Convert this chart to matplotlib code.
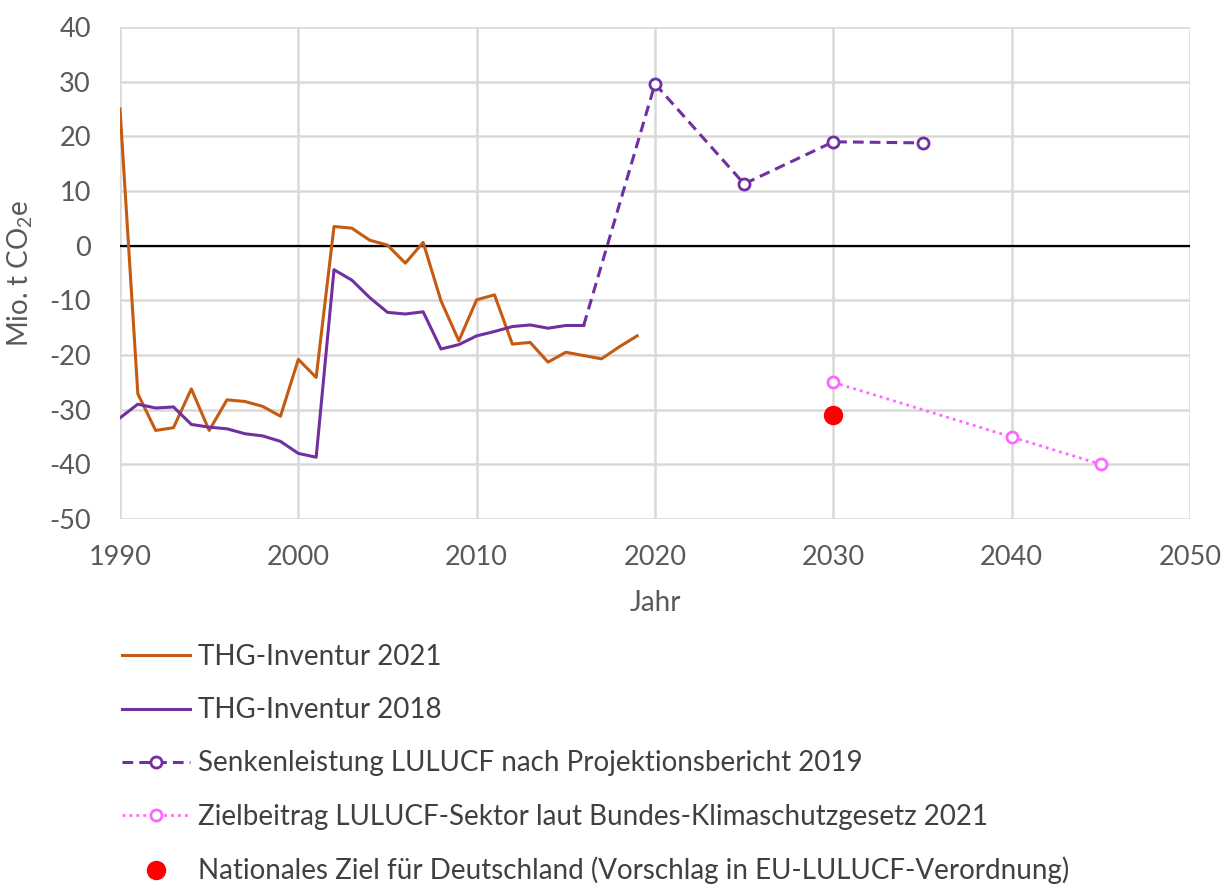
import matplotlib
matplotlib.use("Agg")
import matplotlib.pyplot as plt
import numpy as np

# THG-Inventur 2021 (1990-2019)
years_2021 = np.arange(1990, 2020)
inv_2021 = [25.0, -27.1, -33.8, -33.3, -26.2, -33.8, -28.2, -28.5, -29.4, -31.2,
            -20.8, -24.1, 3.5, 3.2, 1.0, 0.1, -3.2, 0.6, -10.1, -17.4,
            -9.9, -9.0, -18.0, -17.7, -21.3, -19.5, -20.1, -20.7, -18.5, -16.5]

# THG-Inventur 2018 (1990-2016)
years_2018 = np.arange(1990, 2017)
inv_2018 = [-31.5, -29.0, -29.7, -29.5, -32.7, -33.2, -33.5, -34.4, -34.8, -35.8,
            -38.0, -38.7, -4.4, -6.3, -9.5, -12.2, -12.5, -12.1, -18.9, -18.1,
            -16.5, -15.7, -14.8, -14.5, -15.1, -14.6, -14.6]

# Projektionsbericht 2019
years_proj = [2016, 2020, 2025, 2030, 2035]
proj = [-14.6, 29.6, 11.3, 19.0, 18.8]

# Klimaschutzgesetz 2021
years_ksg = [2030, 2040, 2045]
ksg = [-25, -35, -40]

# EU-LULUCF national target
years_eu = [2030]
eu = [-31]

plt.rcParams["font.family"] = ["Lato", "DejaVu Sans"]
plt.rcParams["mathtext.default"] = "regular"
plt.rcParams["axes.unicode_minus"] = False

fig = plt.figure(figsize=(12.24, 8.9), dpi=100)
ax = fig.add_axes([120 / 1224, 1 - 519 / 890, 1070 / 1224, 492 / 890])

orange = "#C55A11"
purple = "#7030A0"
pink = "#FF66FF"

ax.plot(years_2021, inv_2021, color=orange, lw=2.2, label="THG-Inventur 2021", zorder=3)
ax.plot(years_2018, inv_2018, color=purple, lw=2.2, label="THG-Inventur 2018", zorder=3)
ax.plot(years_proj, proj, color=purple, lw=2.2, ls=(0, (3.5, 2)), marker="o",
        markevery=[1, 2, 3, 4], ms=8, mfc="white", mec=purple, mew=2,
        label="Senkenleistung LULUCF nach Projektionsbericht 2019", zorder=3)
ax.plot(years_ksg, ksg, color=pink, lw=2, ls=(0, (1, 1.5)), marker="o",
        ms=8, mfc="white", mec=pink, mew=2,
        label="Zielbeitrag LULUCF-Sektor laut Bundes-Klimaschutzgesetz 2021", zorder=3)
ax.plot(years_eu, eu, ls="none", marker="o", ms=13, color="#FF0000",
        label="Nationales Ziel für Deutschland (Vorschlag in EU-LULUCF-Verordnung)", zorder=4)

ax.axhline(0, color="black", lw=1.6, zorder=2)

ax.set_xlim(1990, 2050)
ax.set_ylim(-50, 40)
ax.set_xticks(np.arange(1990, 2051, 10))
ax.set_yticks(np.arange(-50, 41, 10))
ax.grid(True, color="#D9D9D9", lw=1.8, zorder=0)
ax.set_axisbelow(True)
for s in ax.spines.values():
    s.set_visible(False)
ax.tick_params(length=0, labelsize=19.5, colors="#595959")
ax.tick_params(axis="x", pad=19)
ax.tick_params(axis="y", pad=21)

ax.set_xlabel("Jahr", fontsize=20, color="#595959", labelpad=14)
ax.set_ylabel("Mio. t CO$_2$e", fontsize=20, color="#595959", labelpad=10)

fig.legend(*ax.get_legend_handles_labels(), loc="upper left",
           bbox_to_anchor=(122 / 1224, 1 - 644 / 890), frameon=False,
           fontsize=20, labelspacing=0.98, handlelength=2.45, handletextpad=0.3,
           numpoints=1, labelcolor="#404040", borderaxespad=0, borderpad=0)

fig.savefig("out.png", dpi=100)
